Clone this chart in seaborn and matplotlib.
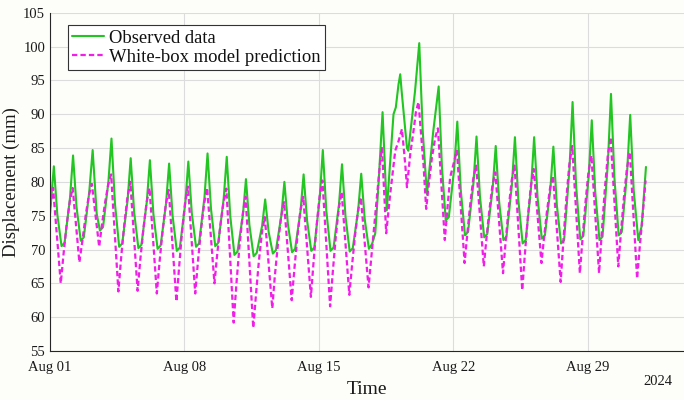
import numpy as np
import pandas as pd
import matplotlib
matplotlib.use("Agg")
import matplotlib.pyplot as plt
import matplotlib.dates as mdates
import seaborn as sns

# ---- data: key points (days since 2024-08-01 00:00, mm) ----
obs_days = [0.0, 0.2, 0.38, 0.6, 0.76,
            1.04, 1.2, 1.38, 1.6, 1.76,
            2.04, 2.22, 2.43, 2.6, 2.76,
            3.04, 3.2, 3.38, 3.6, 3.76,
            4.04, 4.2, 4.38, 4.6, 4.76,
            5.04, 5.2, 5.38, 5.6, 5.76,
            6.04, 6.2, 6.38, 6.6, 6.76,
            7.04, 7.2, 7.38, 7.6, 7.76,
            8.04, 8.2, 8.38, 8.6, 8.76,
            9.04, 9.2, 9.38, 9.6, 9.76,
            10.04, 10.2, 10.38, 10.6, 10.76,
            11.04, 11.2, 11.38, 11.6, 11.76,
            12.04, 12.2, 12.38, 12.6, 12.76,
            13.04, 13.2, 13.38, 13.6, 13.76,
            14.04, 14.2, 14.38, 14.6, 14.76,
            15.04, 15.2, 15.38, 15.6, 15.76,
            16.04, 16.2, 16.38, 16.6, 16.76, 16.93,
            17.1, 17.31, 17.53, 17.7, 17.88, 18.0, 18.14,
            18.23, 18.3, 18.58, 18.65,
            19.0, 19.22, 19.4, 19.62,
            19.95, 20.23, 20.4, 20.6, 20.76,
            21.04, 21.2, 21.38, 21.6, 21.76,
            22.04, 22.2, 22.38, 22.6, 22.76,
            23.04, 23.2, 23.38, 23.6, 23.76,
            24.04, 24.2, 24.38, 24.6, 24.76,
            25.04, 25.2, 25.38, 25.6, 25.76,
            26.04, 26.2, 26.38, 26.6, 26.76,
            27.04, 27.2, 27.38, 27.6, 27.76,
            28.04, 28.2, 28.38, 28.6, 28.76,
            29.04, 29.2, 29.38, 29.6, 29.76,
            30.04, 30.2, 30.38, 30.62, 30.8, 31.02]
obs_vals = [75.2, 82.3, 75.2, 70.5, 71.0,
            77.6, 83.9, 76.3, 71.3, 71.8,
            78.4, 84.7, 75.3, 72.8, 73.3,
            80.0, 86.4, 76.8, 70.4, 70.9,
            77.3, 83.5, 75.5, 70.2, 70.7,
            77.1, 83.2, 75.3, 70.1, 70.6,
            76.8, 82.7, 75.0, 69.8, 70.3,
            76.8, 83.0, 75.4, 70.4, 70.9,
            77.7, 84.2, 76.0, 70.5, 71.0,
            77.5, 83.7, 75.0, 69.2, 69.7,
            75.1, 80.4, 73.6, 69.0, 69.5,
            73.5, 77.4, 72.6, 69.4, 69.9,
            75.0, 80.0, 73.8, 69.6, 70.1,
            75.7, 81.1, 74.3, 69.8, 70.3,
            77.7, 84.7, 75.8, 69.8, 70.3,
            76.6, 82.6, 74.9, 69.7, 70.2,
            75.8, 81.2, 74.5, 70.1, 70.8, 72.4,
            79.7, 90.3, 75.8, 82.6, 90.0, 91.0, 94.4,
            95.9, 93.5, 85.0, 84.6,
            93.4, 100.5, 87.5, 78.2,
            87.5, 94.1, 82.2, 74.3, 74.8,
            82.0, 88.9, 78.8, 72.1, 72.6,
            79.8, 86.7, 77.8, 71.8, 72.3,
            79.0, 85.3, 77.0, 71.4, 71.9,
            79.5, 86.6, 77.2, 70.9, 71.4,
            79.2, 86.6, 77.6, 71.6, 72.1,
            78.8, 85.2, 76.6, 70.9, 71.4,
            82.0, 91.8, 79.6, 71.5, 72.0,
            80.8, 89.1, 78.5, 71.4, 71.9,
            82.9, 93.0, 80.5, 72.1, 72.6,
            81.5, 89.9, 78.8, 71.4, 73.5, 82.2]

pred_days = [0.0, 0.16, 0.56, 0.7, 0.86, 1.03,
             1.18, 1.53, 1.7, 1.86, 2.03,
             2.18, 2.56, 2.7, 2.86, 3.03,
             3.18, 3.56, 3.7, 3.86, 4.03,
             4.18, 4.56, 4.7, 4.86, 5.03,
             5.18, 5.56, 5.7, 5.86, 6.03,
             6.18, 6.58, 6.72, 6.87, 7.03,
             7.18, 7.56, 7.7, 7.86, 8.03,
             8.18, 8.56, 8.7, 8.86, 9.03,
             9.18, 9.56, 9.7, 9.86, 10.03,
             10.18, 10.58, 10.72, 10.87, 11.03,
             11.18, 11.57, 11.7, 11.86, 12.03,
             12.18, 12.58, 12.72, 12.87, 13.03,
             13.18, 13.58, 13.72, 13.87, 14.03,
             14.18, 14.58, 14.72, 14.87, 15.03,
             15.18, 15.58, 15.72, 15.87, 16.03,
             16.18, 16.58, 16.84, 17.01, 17.19,
             17.28, 17.5, 17.7, 17.97, 18.14,
             18.32, 18.49, 18.58, 18.75, 18.92, 19.05,
             19.18, 19.44, 19.58, 19.7, 19.88, 20.05,
             20.19, 20.55, 20.7, 20.83, 21.0,
             21.18, 21.58, 21.72, 21.87, 22.03,
             22.18, 22.58, 22.72, 22.87, 23.03,
             23.18, 23.58, 23.72, 23.87, 24.03,
             24.18, 24.58, 24.72, 24.87, 25.03,
             25.18, 25.58, 25.72, 25.87, 26.03,
             26.18, 26.58, 26.72, 26.87, 27.03,
             27.18, 27.58, 27.72, 27.87, 28.03,
             28.18, 28.58, 28.72, 28.87, 29.03,
             29.18, 29.58, 29.72, 29.87, 30.03,
             30.18, 30.56, 30.7, 30.86, 31.0]
pred_vals = [76.2, 79.1, 65.0, 69.2, 73.5, 77.1,
             79.1, 68.1, 71.6, 75.1, 78.1,
             79.7, 70.4, 73.6, 76.8, 79.6,
             81.1, 63.8, 68.7, 73.5, 77.7,
             80.0, 63.9, 68.5, 73.0, 77.0,
             79.1, 63.5, 68.1, 72.7, 76.7,
             78.8, 62.3, 67.4, 72.5, 76.9,
             79.3, 63.5, 68.2, 72.9, 76.9,
             79.1, 65.0, 69.2, 73.4, 77.0,
             79.0, 59.2, 64.8, 70.4, 75.2,
             77.8, 58.4, 63.3, 68.2, 72.5,
             74.8, 61.3, 66.0, 70.7, 74.8,
             77.0, 62.5, 67.1, 71.7, 75.7,
             77.8, 63.0, 68.2, 73.3, 77.8,
             80.2, 61.6, 66.7, 71.7, 76.1,
             78.5, 63.3, 67.6, 71.9, 75.7,
             77.7, 64.4, 72.4, 77.7, 83.1,
             85.0, 72.4, 78.0, 84.6, 86.0,
             87.8, 82.6, 79.2, 84.1, 87.5, 90.4,
             91.8, 82.6, 76.0, 79.2, 83.6, 86.5,
             87.9, 71.4, 76.5, 80.7, 82.6,
             84.6, 68.0, 72.3, 76.6, 80.4,
             82.4, 67.5, 71.7, 75.8, 79.5,
             81.4, 66.5, 71.3, 76.0, 80.2,
             82.4, 64.0, 69.4, 74.7, 79.4,
             81.9, 68.0, 71.9, 75.7, 79.1,
             80.9, 65.2, 71.2, 77.3, 82.5,
             85.3, 66.5, 71.7, 76.9, 81.5,
             83.9, 66.5, 72.5, 78.6, 83.8,
             86.6, 67.5, 72.6, 77.6, 82.0,
             84.4, 65.7, 70.5, 75.5, 80.2]

tick_dates = ["2024-08-01", "2024-08-08", "2024-08-15", "2024-08-22", "2024-08-29"]
y_ticks = [55, 60, 65, 70, 75, 80, 85, 90, 95, 100, 105]

start = pd.Timestamp("2024-08-01")
obs_df = pd.DataFrame({"Time": start + pd.to_timedelta(obs_days, unit="D"),
                       "Displacement": obs_vals})
pred_df = pd.DataFrame({"Time": start + pd.to_timedelta(pred_days, unit="D"),
                        "Displacement": pred_vals})

sns.set_theme(style="white")
plt.rcParams["font.family"] = ["Liberation Serif", "DejaVu Serif"]

bg = "#fdfdf9"
fig = plt.figure(figsize=(6.84, 4.0), dpi=100, facecolor=bg)
ax = fig.add_axes([50 / 684, 1 - 351 / 400, 634 / 684, (351 - 12.7) / 400])
ax.set_facecolor(bg)

sns.lineplot(data=obs_df, x="Time", y="Displacement", ax=ax, color="#22c522",
             lw=1.5, label="Observed data", estimator=None)
sns.lineplot(data=pred_df, x="Time", y="Displacement", ax=ax, color="#f01ee6",
             lw=1.6, linestyle=(0, (2.4, 1.4)), label="White-box model prediction",
             estimator=None)

ax.set_ylim(55, 105)
ax.set_xlim(start, start + pd.Timedelta(days=33))
ax.set_yticks(y_ticks)
ax.set_xticks(pd.to_datetime(tick_dates))
ax.xaxis.set_major_formatter(mdates.DateFormatter("%b %d"))

ax.grid(True, color="#dcdcdc", lw=0.8)
ax.set_axisbelow(True)
for s in ["top", "right"]:
    ax.spines[s].set_visible(False)
for s in ["left", "bottom"]:
    ax.spines[s].set_color("#262626")
    ax.spines[s].set_linewidth(0.8)
ax.tick_params(axis="both", direction="in", length=5, width=0.8, color="#262626",
               labelsize=10.5, labelcolor="#1a1a1a", pad=3.5)
ax.tick_params(axis="x", pad=7)

ax.set_xlabel("Time", fontsize=14, color="#1a1a1a", labelpad=5)
ax.set_ylabel("Displacement (mm)", fontsize=13.5, color="#1a1a1a", labelpad=2)
ax.text(0.981, -0.091, "2024", transform=ax.transAxes, ha="right", va="center",
        fontsize=10.5, color="#1a1a1a")

leg = ax.legend(loc="upper left", bbox_to_anchor=(0.028, 0.9636), borderaxespad=0,
                fontsize=13.4, frameon=True, fancybox=False, borderpad=0.25,
                labelspacing=0.1, handlelength=1.7, handletextpad=0.25)
leg.get_frame().set_edgecolor("#333333")
leg.get_frame().set_linewidth(0.8)
leg.get_frame().set_facecolor("white")
leg.get_frame().set_alpha(1)
for t in leg.get_texts():
    t.set_color("#111111")

fig.savefig("out.png", dpi=100, facecolor=bg)
